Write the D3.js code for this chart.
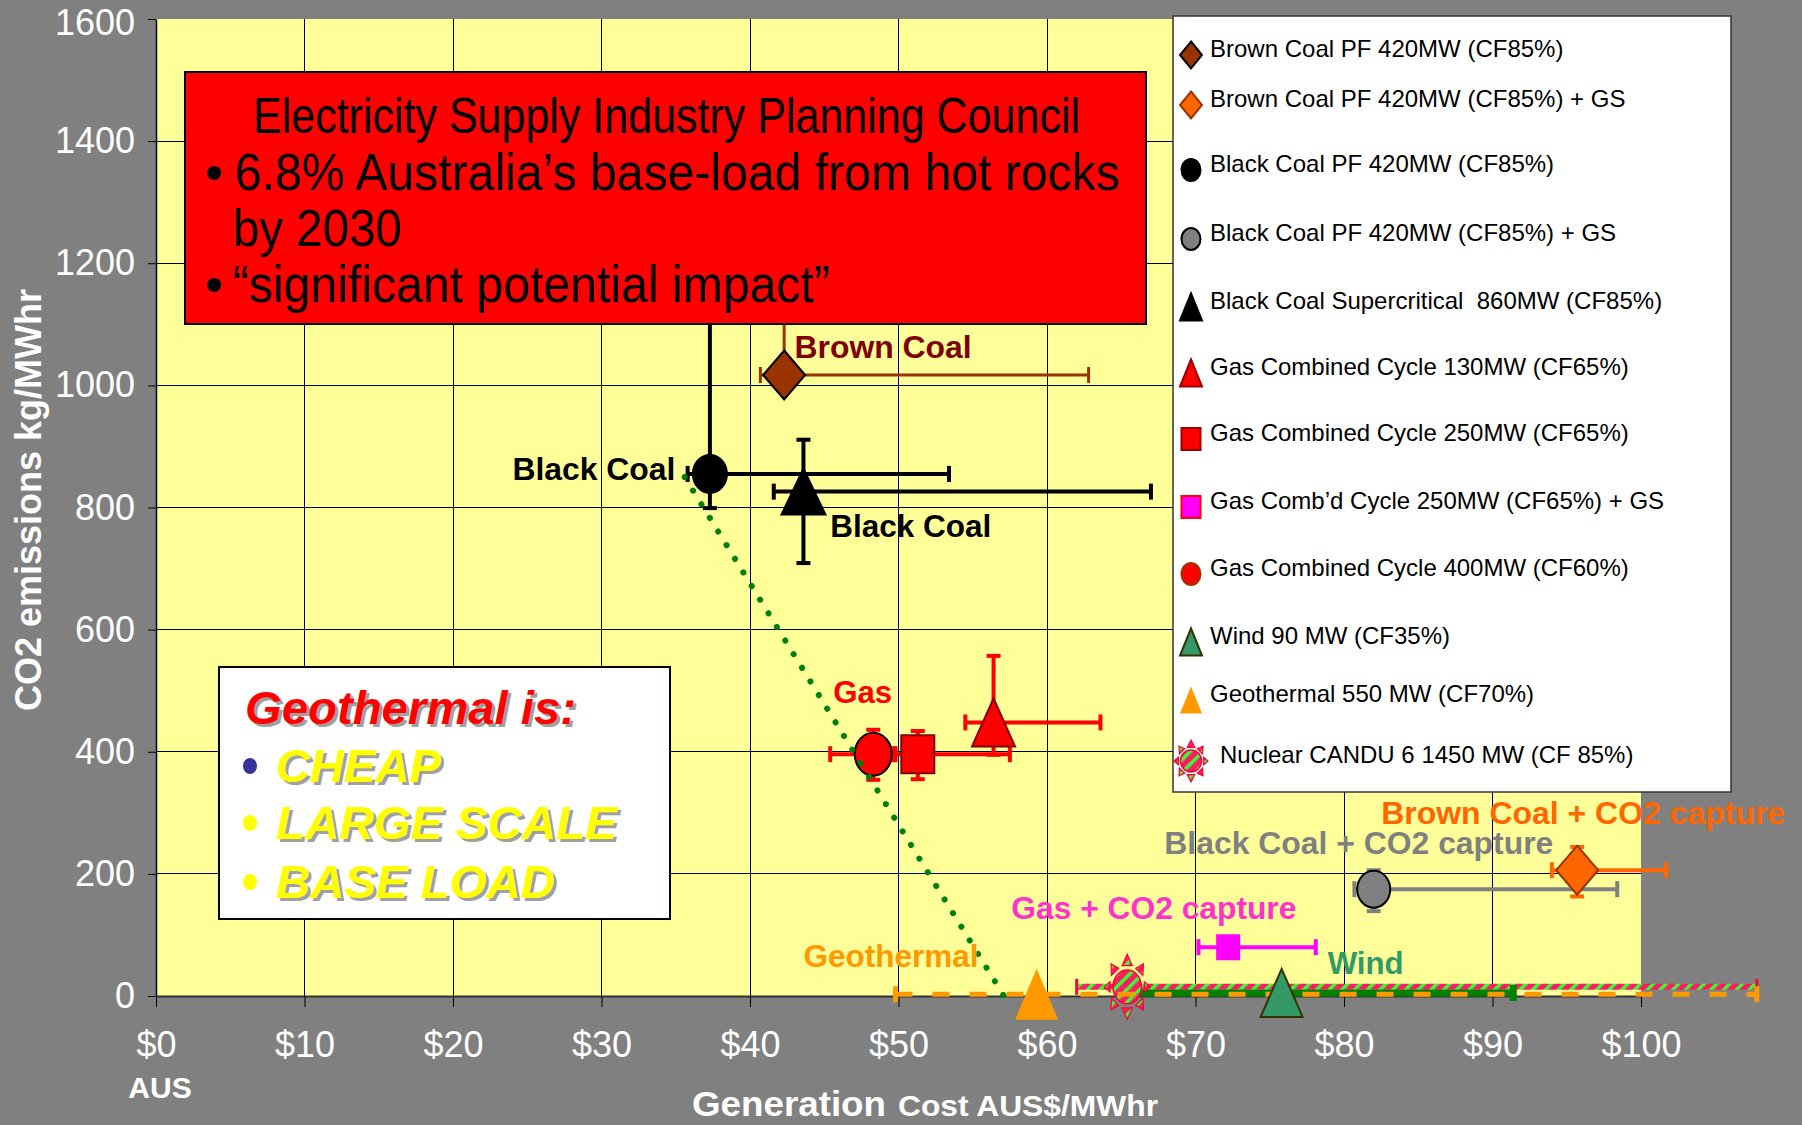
<!DOCTYPE html>
<html>
<head>
<meta charset="utf-8">
<script src="https://d3js.org/d3.v7.min.js"></script>
<style>
  html, body { margin: 0; padding: 0; background: #808080; }
  svg { display: block; font-family: "Liberation Sans", Arial, sans-serif; }
  .legend text { white-space: pre; }
</style>
</head>
<body>
<div id="chart"></div>
<script>
'use strict';

const W = 1802, H = 1125;

// series, in legend order
const seriesNames = [
  'Brown Coal PF 420MW (CF85%)',
  'Brown Coal PF 420MW (CF85%) + GS',
  'Black Coal PF 420MW (CF85%)',
  'Black Coal PF 420MW (CF85%) + GS',
  'Black Coal Supercritical  860MW (CF85%)',
  'Gas Combined Cycle 130MW (CF65%)',
  'Gas Combined Cycle 250MW (CF65%)',
  'Gas Comb\u2019d Cycle 250MW (CF65%) + GS',
  'Gas Combined Cycle 400MW (CF60%)',
  'Wind 90 MW (CF35%)',
  'Geothermal 550 MW (CF70%)',
  'Nuclear CANDU 6 1450 MW (CF 85%)'
];
const costs     = [42.3, 95.7, 37.3, 82.0, 43.6, 56.4, 51.3, 72.2, 48.3, 75.8, 59.3, 65.4];
const emissions = [1017, 206, 855, 175, 826, 448, 396, 80, 396, 5, 3, 15];
// error bar ranges (null = none)
const costLow   = [40.7, 94.0, 35.8, 80.7, 41.6, 54.5, 49.8, 70.2, 45.4, 65.8, 49.8, 62.0];
const costHigh  = [62.8, 101.7, 53.4, 98.4, 67.0, 63.6, 57.5, 78.1, 49.6, 91.4, 107.8, 107.8];
const emisLow   = [null, 163, 799, 139, 709, 395, 355, null, 354, null, null, null];
const emisHigh  = [1300, 244, 1300, 206, 911, 557, 434, null, 436, null, null, null];

// dotted trend line end points
const trendCost = [35.6, 57.1];
const trendEmis = [850, 0];

const costTicks = [0, 10, 20, 30, 40, 50, 60, 70, 80, 90, 100];
const emisTicks = [0, 200, 400, 600, 800, 1000, 1200, 1400, 1600];

const boxLines = [
  'Electricity Supply Industry Planning Council',
  '6.8% Australia\u2019s base-load from hot rocks',
  'by 2030',
  '\u201Csignificant potential impact\u201D'
];
const geoLines = ['Geothermal is:', 'CHEAP', 'LARGE SCALE', 'BASE LOAD'];

// ---- styles ----
const markerStyle = [
  { shape: 'diamond',  w: 42, h: 49, fill: '#993300', stroke: '#000' },
  { shape: 'diamond',  w: 42, h: 49, fill: '#FF6600', stroke: '#993300' },
  { shape: 'circle',   w: 34, h: 38, fill: '#000',    stroke: '#000' },
  { shape: 'circle',   w: 33, h: 37, fill: '#808080', stroke: '#000' },
  { shape: 'triangle', w: 44, h: 46, fill: '#000',    stroke: '#000' },
  { shape: 'triangle', w: 43, h: 48, fill: '#FF0000', stroke: '#800000' },
  { shape: 'square',   w: 33, h: 38, fill: '#FF0000', stroke: '#800000' },
  { shape: 'square',   w: 22, h: 24, fill: '#FF00FF', stroke: '#FF00FF' },
  { shape: 'circle',   w: 37, h: 43, fill: '#FF0000', stroke: '#000' },
  { shape: 'triangle', w: 42, h: 48, fill: '#339966', stroke: '#333300' },
  { shape: 'triangle', w: 43, h: 51, fill: '#FF9900', stroke: 'none' },
  { shape: 'sun',      w: 46, h: 65, fill: 'url(#hatch)', stroke: '#FF0033' }
];
const legendStroke = ['#000', '#993300', '#000', '#000', '#000', '#990000',
  '#990000', '#FF0000', '#993300', '#333300', 'none', '#FF0033'];
const legendSize = { diamond: [22, 27], circle: [19, 22], triangle: [22, 27], square: [19, 22], sun: [34, 42] };
const legendRowY = [49, 99, 164, 233, 301, 367, 433, 501, 568, 636, 694, 755];

const barStyle = [
  { color: '#993300', width: 3 },
  { color: '#FF6600', width: 4 },
  { color: '#000',    width: 4 },
  { color: '#808080', width: 4 },
  { color: '#000',    width: 4 },
  { color: '#FF0000', width: 4 },
  { color: '#FF0000', width: 4 },
  { color: '#FF00FF', width: 4 },
  { color: '#FF0000', width: 4 },
  { color: '#008000', width: 7 },
  { color: '#FF9900', width: 5, dash: '17 20' },
  { color: 'url(#hatch)', width: 6, cap: '#FF0033' }
];

const annotations = [
  { text: 'Brown Coal', cost: 43.0, emis: 1045, color: '#800000', len: 177 },
  { text: 'Black Coal', cost: 24.0, emis: 845, color: '#000', len: 163 },
  { text: 'Black Coal', cost: 45.4, emis: 752, color: '#000', len: 161 },
  { text: 'Gas', cost: 45.6, emis: 480, color: '#FF0000', len: 59 },
  { text: 'Brown Coal + CO2 capture', cost: 82.5, emis: 282, color: '#FF6600', len: 404 },
  { text: 'Black Coal + CO2 capture', cost: 67.9, emis: 232, color: '#808080', len: 389 },
  { text: 'Gas + CO2 capture', cost: 57.6, emis: 126, color: '#FF33CC', len: 285 },
  { text: 'Geothermal', cost: 43.6, emis: 47, color: '#FF9900', len: 175 },
  { text: 'Wind', cost: 78.9, emis: 36, color: '#339966', len: 76 }
];

const x = d3.scaleLinear().domain([0, 100]).range([156, 1641]);
const y = d3.scaleLinear().domain([0, 1600]).range([996, 19]);

const svg = d3.select('#chart').append('svg')
  .attr('width', W)
  .attr('height', H);

const defs = svg.append('defs');
const hatch = defs.append('pattern')
  .attr('id', 'hatch')
  .attr('patternUnits', 'userSpaceOnUse')
  .attr('width', 9)
  .attr('height', 9)
  .attr('patternTransform', 'rotate(45)');
hatch.append('rect').attr('width', 9).attr('height', 9).attr('fill', '#FF1A66');
hatch.append('rect').attr('width', 3.5).attr('height', 9).attr('fill', '#33FF33');

function shapePath(shape, w, h) {
  const a = w / 2, b = h / 2;
  if (shape === 'diamond') return `M0,${-b}L${a},0L0,${b}L${-a},0Z`;
  if (shape === 'triangle') return `M0,${-b}L${a},${b}L${-a},${b}Z`;
  return `M${-a},${-b}H${a}V${b}H${-a}Z`;
} // shapePath

function drawSun(g, w, h, stroke) {
  const bx = w * 0.31, by = h * 0.26;
  for (let k = 0; k < 8; k++) {
    const t = k * Math.PI / 4;
    const c = Math.cos(t), s = Math.sin(t);
    const baseX = bx * 1.2 * c, baseY = by * 1.25 * s;
    const tipX = (w / 2) * c, tipY = (h / 2) * s;
    const half = w * 0.11;
    g.append('path')
      .attr('d', `M${baseX - s * half},${baseY + c * half}L${tipX},${tipY}L${baseX + s * half},${baseY - c * half}Z`)
      .attr('fill', 'url(#hatch)')
      .attr('stroke', stroke)
      .attr('stroke-width', 1.2);
  }
  g.append('ellipse')
    .attr('rx', bx).attr('ry', by)
    .attr('fill', 'url(#hatch)')
    .attr('stroke', stroke)
    .attr('stroke-width', 1.5);
} // drawSun

function drawMarker(g, st, w, h, stroke) {
  if (st.shape === 'sun') {
    drawSun(g, w, h, stroke);
  } else if (st.shape === 'circle') {
    g.append('ellipse')
      .attr('rx', w / 2).attr('ry', h / 2)
      .attr('fill', st.fill)
      .attr('stroke', stroke)
      .attr('stroke-width', 2);
  } else {
    g.append('path')
      .attr('d', shapePath(st.shape, w, h))
      .attr('fill', st.fill)
      .attr('stroke', stroke)
      .attr('stroke-width', 2)
      .attr('stroke-linejoin', 'miter');
  }
} // drawMarker

function drawFrame() {
  svg.append('rect').attr('width', W).attr('height', H).attr('fill', '#808080');
  svg.append('rect')
    .attr('x', x(0)).attr('y', y(1600))
    .attr('width', x(100) - x(0)).attr('height', y(0) - y(1600))
    .attr('fill', '#FFFF99');

  // grid
  svg.append('g').selectAll('line')
    .data(costTicks.filter(d => d > 0 && d < 100))
    .join('line')
      .attr('x1', d => x(d)).attr('x2', d => x(d))
      .attr('y1', y(1600)).attr('y2', y(0))
      .attr('stroke', '#000').attr('stroke-width', 1)
      .attr('shape-rendering', 'crispEdges');
  svg.append('g').selectAll('line')
    .data(emisTicks.filter(d => d > 0 && d < 1600))
    .join('line')
      .attr('x1', x(0)).attr('x2', x(100))
      .attr('y1', d => y(d)).attr('y2', d => y(d))
      .attr('stroke', '#000').attr('stroke-width', 1)
      .attr('shape-rendering', 'crispEdges');

  // axes
  const xAxis = svg.append('g')
    .attr('transform', `translate(0,${y(0)})`)
    .call(d3.axisBottom(x).tickValues(costTicks).tickSize(11).tickSizeOuter(0).tickPadding(24)
      .tickFormat(d => '$' + d));
  xAxis.select('.domain').attr('stroke', '#333').attr('stroke-width', 2);
  xAxis.selectAll('.tick line').attr('stroke', '#000');
  xAxis.selectAll('.tick text').attr('fill', '#fff').attr('font-size', 36)
    .attr('font-family', '"Liberation Sans", Arial, sans-serif');

  const yAxis = svg.append('g')
    .attr('transform', `translate(${x(0)},0)`)
    .call(d3.axisLeft(y).tickValues(emisTicks).tickSize(8).tickSizeOuter(0).tickPadding(13)
      .tickFormat(d3.format('d')));
  yAxis.select('.domain').attr('stroke', '#000').attr('stroke-width', 1.5);
  yAxis.selectAll('.tick line').attr('stroke', '#000');
  yAxis.selectAll('.tick text').attr('fill', '#fff').attr('font-size', 36)
    .attr('font-family', '"Liberation Sans", Arial, sans-serif')
    .attr('y', d => d === 1600 ? 4 : 0); // keep top label inside the page

  // axis titles
  svg.append('text')
    .attr('transform', 'translate(28,500) rotate(-90)')
    .attr('text-anchor', 'middle')
    .attr('dy', '0.35em')
    .attr('fill', '#fff')
    .attr('font-weight', 'bold')
    .attr('font-size', 36)
    .text('CO2 emissions kg/MWhr');

  svg.append('text')
    .attr('x', 160).attr('y', 1098)
    .attr('text-anchor', 'middle')
    .attr('fill', '#fff').attr('font-weight', 'bold').attr('font-size', 30)
    .text('AUS');

  svg.append('text')
    .attr('x', 692).attr('y', 1116)
    .attr('fill', '#fff').attr('font-weight', 'bold').attr('font-size', 35)
    .attr('textLength', 194).attr('lengthAdjust', 'spacingAndGlyphs')
    .text('Generation');
  svg.append('text')
    .attr('x', 898).attr('y', 1116)
    .attr('fill', '#fff').attr('font-weight', 'bold').attr('font-size', 29)
    .attr('textLength', 260).attr('lengthAdjust', 'spacingAndGlyphs')
    .text('Cost AUS$/MWhr');
} // drawFrame

function drawErrorBars(i) {
  const st = barStyle[i];
  const g = svg.append('g').attr('class', 'err');
  const cx = x(costs[i]), cy = y(emissions[i]);
  const capColor = st.cap || st.color;
  const capW = st.cap ? 3 : st.width;

  if (costLow[i] !== null) {
    g.append('line')
      .attr('x1', x(costLow[i])).attr('x2', x(costHigh[i]))
      .attr('y1', cy).attr('y2', cy)
      .attr('stroke', st.color).attr('stroke-width', st.width)
      .attr('stroke-dasharray', st.dash || null);
    [costLow[i], costHigh[i]].forEach(v => {
      g.append('line')
        .attr('x1', x(v)).attr('x2', x(v))
        .attr('y1', cy - 8).attr('y2', cy + 8)
        .attr('stroke', capColor).attr('stroke-width', capW);
    });
  }
  if (emisHigh[i] !== null) {
    const lo = emisLow[i] === null ? emissions[i] : emisLow[i];
    g.append('line')
      .attr('x1', cx).attr('x2', cx)
      .attr('y1', y(lo)).attr('y2', y(emisHigh[i]))
      .attr('stroke', st.color).attr('stroke-width', st.width);
    [emisLow[i], emisHigh[i]].filter(v => v !== null).forEach(v => {
      g.append('line')
        .attr('x1', cx - 7).attr('x2', cx + 7)
        .attr('y1', y(v)).attr('y2', y(v))
        .attr('stroke', st.color).attr('stroke-width', st.width);
    });
  }
} // drawErrorBars

function drawPoint(i) {
  const st = markerStyle[i];
  const g = svg.append('g')
    .attr('transform', `translate(${x(costs[i])},${y(emissions[i])})`);
  drawMarker(g, st, st.w, st.h, st.stroke);
} // drawPoint

function drawData() {
  // error bars first, the bottom three in their own order
  [0, 1, 2, 3, 4, 5, 6, 7, 8, 11, 9].forEach(drawErrorBars);
  [0, 1, 2, 3, 4, 5, 6, 7, 8, 11].forEach(drawPoint);
  drawErrorBars(10);
  drawPoint(9);
  drawPoint(10);

  // dotted trend
  svg.append('line')
    .attr('x1', x(trendCost[0])).attr('y1', y(trendEmis[0]))
    .attr('x2', x(trendCost[1])).attr('y2', y(trendEmis[1]))
    .attr('stroke', '#008000')
    .attr('stroke-width', 6)
    .attr('stroke-linecap', 'round')
    .attr('stroke-dasharray', '0.1 15.9');

  svg.append('g').selectAll('text')
    .data(annotations)
    .join('text')
      .attr('x', d => x(d.cost))
      .attr('y', d => y(d.emis))
      .attr('fill', d => d.color)
      .attr('font-weight', 'bold')
      .attr('font-size', 32)
      .attr('textLength', d => d.len)
      .attr('lengthAdjust', 'spacingAndGlyphs')
      .text(d => d.text);
} // drawData

function drawRedBox() {
  const g = svg.append('g');
  g.append('rect')
    .attr('x', 185).attr('y', 72).attr('width', 961).attr('height', 252)
    .attr('fill', '#FF0000').attr('stroke', '#000').attr('stroke-width', 2);
  const rows = [
    { x: 253, y: 133, size: 50, len: 827 },
    { x: 235, y: 190, size: 52, len: 885, bullet: true },
    { x: 233, y: 246, size: 52, len: 169 },
    { x: 233, y: 302, size: 52, len: 597, bullet: true }
  ];
  rows.forEach((r, i) => {
    g.append('text')
      .attr('x', r.x).attr('y', r.y)
      .attr('font-size', r.size).attr('fill', '#000')
      .attr('textLength', r.len).attr('lengthAdjust', 'spacingAndGlyphs')
      .text(boxLines[i]);
    if (r.bullet) {
      g.append('text')
        .attr('x', 214).attr('y', r.y)
        .attr('text-anchor', 'middle')
        .attr('font-size', 52).attr('fill', '#000')
        .text('\u2022');
    }
  });
} // drawRedBox

function drawGeoBox() {
  const g = svg.append('g');
  g.append('rect')
    .attr('x', 219).attr('y', 667).attr('width', 451).attr('height', 252)
    .attr('fill', '#fff').attr('stroke', '#000').attr('stroke-width', 2);
  const rows = [
    { x: 245, y: 724, len: 331, color: '#FF0000' },
    { x: 276, y: 782, len: 165, color: '#FFFF00', bullet: '#333399' },
    { x: 276, y: 839, len: 341, color: '#FFFF00', bullet: '#FFFF00' },
    { x: 276, y: 898, len: 279, color: '#FFFF00', bullet: '#FFFF00' }
  ];
  rows.forEach((r, i) => {
    [['#A0A0A0', 3], [r.color, 0]].forEach(([c, off]) => {
      g.append('text')
        .attr('x', r.x + off).attr('y', r.y + off)
        .attr('font-size', 47).attr('font-weight', 'bold').attr('font-style', 'italic')
        .attr('fill', c)
        .attr('textLength', r.len).attr('lengthAdjust', 'spacingAndGlyphs')
        .text(geoLines[i]);
    });
    if (r.bullet) {
      g.append('ellipse')
        .attr('cx', 250).attr('cy', r.y - 16).attr('rx', 7).attr('ry', 8)
        .attr('fill', r.bullet);
    }
  });
} // drawGeoBox

function drawLegend() {
  const g = svg.append('g').attr('class', 'legend');
  g.append('rect')
    .attr('x', 1173).attr('y', 16).attr('width', 558).attr('height', 776)
    .attr('fill', '#fff').attr('stroke', '#333').attr('stroke-width', 1.5);
  seriesNames.forEach((name, i) => {
    const st = markerStyle[i];
    const [w, h] = legendSize[st.shape];
    const row = legendRowY[i];
    const m = g.append('g').attr('transform', `translate(1191,${row + 6})`);
    drawMarker(m, st, w, h, legendStroke[i]);
    g.append('text')
      .attr('x', st.shape === 'sun' ? 1220 : 1210)
      .attr('y', row)
      .attr('dy', '0.35em')
      .attr('font-size', 24)
      .attr('fill', '#000')
      .text(name);
  });
} // drawLegend

drawFrame();
drawData();
drawRedBox();
drawGeoBox();
drawLegend();
</script>
</body>
</html>
